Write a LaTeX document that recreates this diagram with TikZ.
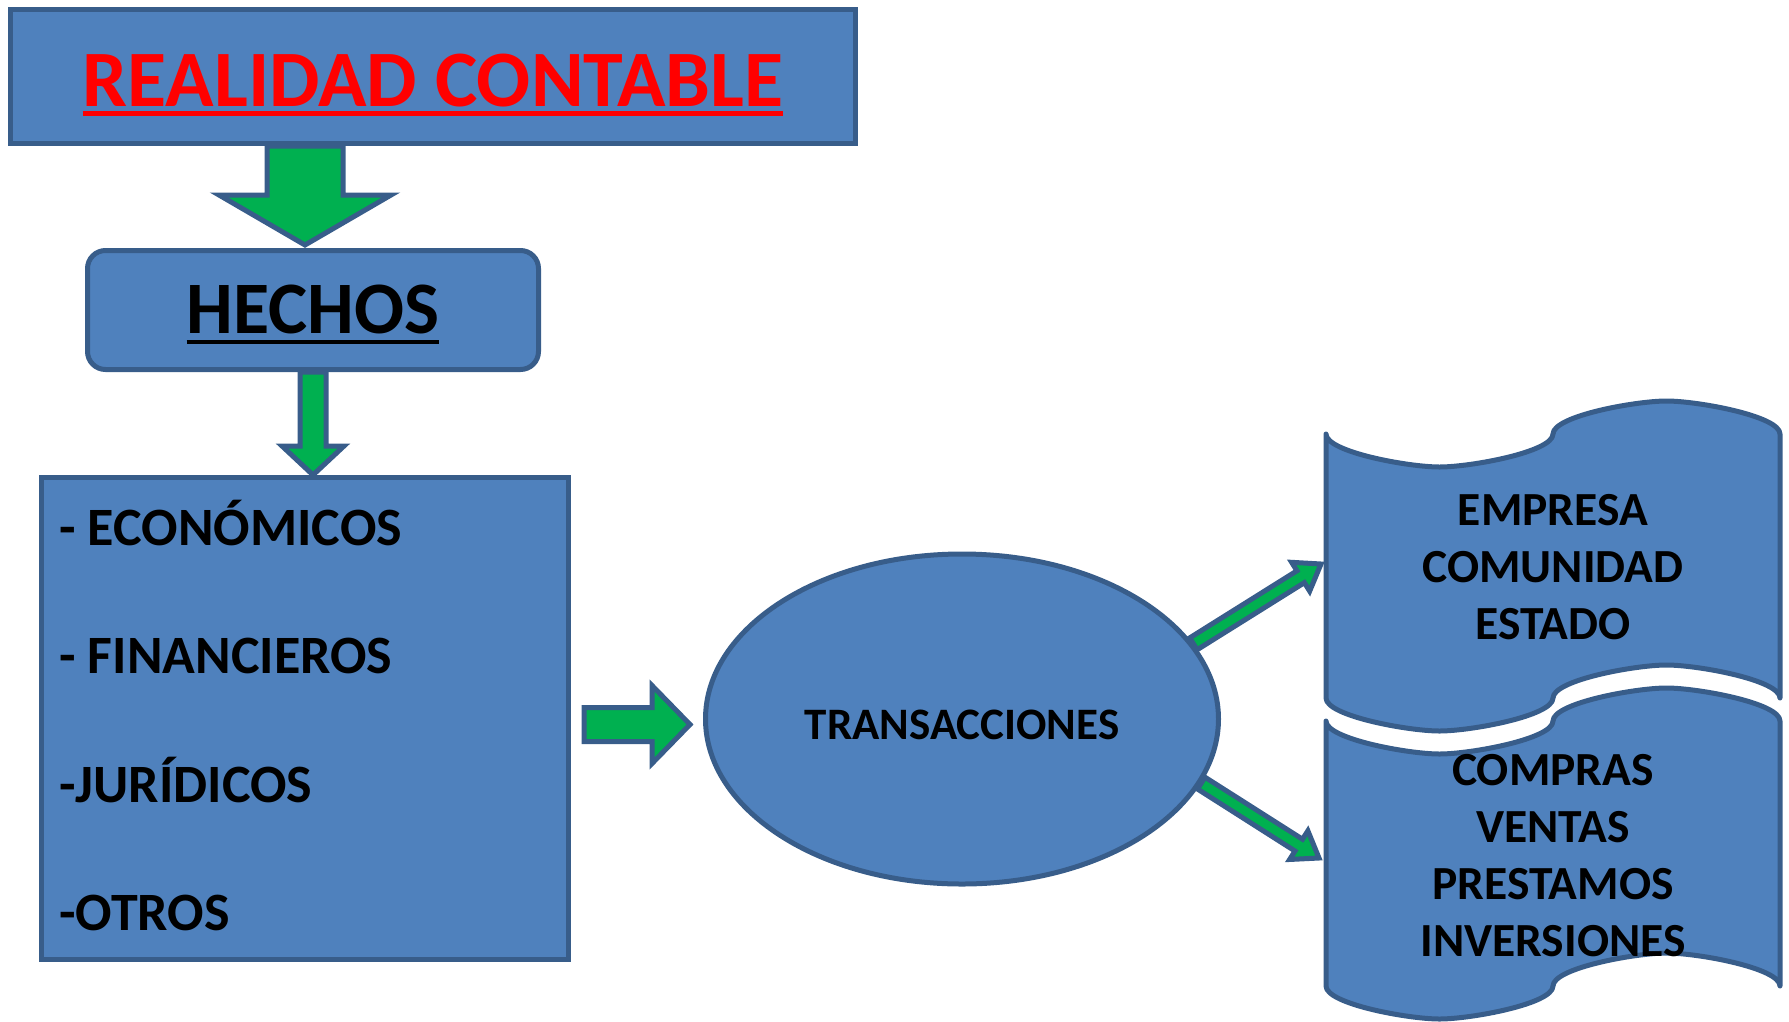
\documentclass[tikz,border=0pt]{standalone}
\usepackage{fontspec}
\setmainfont{Carlito}
\usetikzlibrary{calc,shapes.geometric}
\definecolor{boxfill}{HTML}{4F81BD}
\definecolor{boxline}{HTML}{385D8A}
\definecolor{agreen}{HTML}{00B050}
% block arrow: from, to, half shaft, half head, head length
\newcommand\blockarrow[5]{%
  \coordinate (bac) at ($(#2)!#5!(#1)$);
  \draw[barrow] ($(#1)!#3!90:(#2)$) -- ($(bac)!#3!90:(#2)$) -- ($(bac)!#4!90:(#2)$)
    -- (#2) -- ($(bac)!#4!-90:(#2)$) -- ($(bac)!#3!-90:(#2)$) -- ($(#1)!#3!-90:(#2)$) -- cycle;}
% scroll shape: L, R, T, B (amplitude 33)
\newcommand\scrollshape[4]{%
  \draw[bluebox,line join=round,line cap=round]
    (#1,#3) .. controls (#1,{#3+18}) and ({#1+(#2-#1)/4-31},{#3+33}) .. ({#1+(#2-#1)/4},{#3+33})
    .. controls ({#1+(#2-#1)/4+31},{#3+33}) and ({(#1+#2)/2},{#3+18}) .. ({(#1+#2)/2},#3)
    .. controls ({(#1+#2)/2},{#3-18}) and ({#2-(#2-#1)/4-31},{#3-33}) .. ({#2-(#2-#1)/4},{#3-33})
    .. controls ({#2-(#2-#1)/4+31},{#3-33}) and (#2,{#3-18}) .. (#2,#3)
    -- (#2,#4)
    .. controls (#2,{#4-18}) and ({#2-(#2-#1)/4+31},{#4-33}) .. ({#2-(#2-#1)/4},{#4-33})
    .. controls ({#2-(#2-#1)/4-31},{#4-33}) and ({(#1+#2)/2},{#4-18}) .. ({(#1+#2)/2},#4)
    .. controls ({(#1+#2)/2},{#4+18}) and ({#1+(#2-#1)/4+31},{#4+33}) .. ({#1+(#2-#1)/4},{#4+33})
    .. controls ({#1+(#2-#1)/4-31},{#4+33}) and (#1,{#4+18}) .. (#1,#4) -- cycle;}
\begin{document}
\begin{tikzpicture}[x=1pt,y=-1pt,
  bluebox/.style={draw=boxline,fill=boxfill,line width=5pt},
  barrow/.style={draw=boxline,fill=agreen,line width=5pt,line join=miter},
  item/.style={font=\bfseries\fontsize{54}{62}\selectfont,inner sep=0pt,anchor=base west},
  scrolltext/.style={font=\bfseries\fontsize{47.5}{57}\selectfont,align=center,inner sep=0pt},
]
\useasboundingbox (0,0) rectangle (1789,1021);
% boxes
\node[bluebox,minimum width=845pt,minimum height=134pt,inner sep=0pt] (top) at (433,76.5) {};
\node[bluebox,rounded corners=18pt,minimum width=451pt,minimum height=119pt,inner sep=0pt] (hechos) at (313,310) {};
\node[bluebox,minimum width=527pt,minimum height=482pt,inner sep=0pt] (left) at (305,718.5) {};
\node[bluebox,ellipse,minimum width=513pt,minimum height=330pt,inner sep=0pt] (ell) at (962,719) {};
\scrollshape{1326}{1780}{434}{698}
\scrollshape{1326}{1780}{721}{986}
% texts
\node[font=\bfseries\fontsize{80}{96}\selectfont,text=red,inner sep=0pt,anchor=base] (title) at (433,106) {REALIDAD CONTABLE};
\draw[red,line width=5pt] ([yshift=-7pt]title.base west) -- ([yshift=-7pt]title.base east);
\node[font=\bfseries\fontsize{74}{88}\selectfont,inner sep=0pt,anchor=base] (htext) at (313,333) {HECHOS};
\draw[black,line width=4pt] ([yshift=-9pt]htext.base west) -- ([yshift=-9pt]htext.base east);
\node[item] (i1) at (59,545) {- ECONÓMICOS};
\node[item] (i2) at (59,673) {- FINANCIEROS};
\node[item] (i3) at (59,802) {-JURÍDICOS};
\node[item] (i4) at (59,930) {-OTROS};
\node[font=\bfseries\fontsize{45}{54}\selectfont,inner sep=0pt,anchor=base] (trans) at (962,739) {TRANSACCIONES};
\node[scrolltext] (s1) at (1553,567) {EMPRESA\\COMUNIDAD\\ESTADO};
\node[scrolltext] (s2) at (1553,856) {COMPRAS\\VENTAS\\PRESTAMOS\\INVERSIONES};
% arrow end points
\coordinate (a1s) at ([xshift=-8pt]hechos.north |- top.south);
\coordinate (a1e) at ([xshift=-8pt,yshift=3pt]hechos.north);
\coordinate (a2s) at (hechos.south);
\coordinate (a2e) at (hechos.south |- left.north);
\coordinate (a3s) at ([xshift=13pt,yshift=-6pt]left.east);
\coordinate (a3e) at ([xshift=-13pt]ell.west |- a3s);
\coordinate (a4s) at (ell.18);
\coordinate (a4e) at (1321,564);
\coordinate (a5s) at (ell.-15);
\coordinate (a5e) at (1319,858);
\blockarrow{a1s}{a1e}{38pt}{86pt}{50pt}
\blockarrow{a2s}{a2e}{13pt}{31pt}{29pt}
\blockarrow{a3s}{a3e}{17pt}{39pt}{38pt}
\blockarrow{a4s}{a4e}{7pt}{17pt}{24pt}
\blockarrow{a5s}{a5e}{7pt}{17pt}{24pt}
\end{tikzpicture}
\end{document}
